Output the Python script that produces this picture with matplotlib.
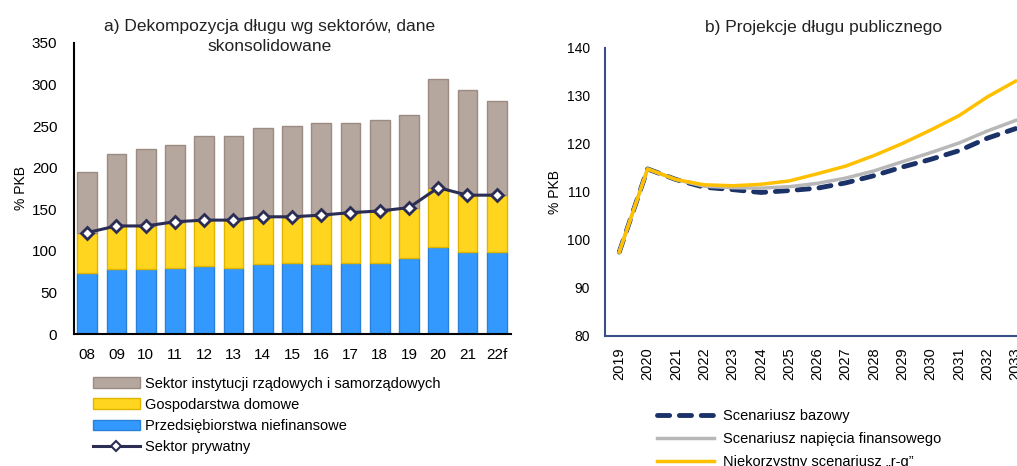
import numpy as np
import matplotlib
matplotlib.use('Agg')
import matplotlib.pyplot as plt
from matplotlib import rcParams
from matplotlib.patches import Patch
from matplotlib.lines import Line2D

rcParams['font.family'] = ['Liberation Sans', 'DejaVu Sans']

# a) debt by sector, % of GDP
years_a = ['08', '09', '10', '11', '12', '13', '14', '15', '16', '17', '18', '19', '20', '21', '22f']
nonfin = [74, 78, 78, 80, 82, 80, 84, 86, 84, 86, 86, 91, 105, 99, 99]
households = [48, 52, 52, 55, 55, 57, 57, 55, 59, 60, 62, 61, 71, 68, 68]
government = [73, 86, 93, 92, 101, 101, 107, 109, 111, 108, 109, 111, 130, 126, 113]

# b) public debt projections, % of GDP
years_b = list(range(2019, 2034))
base = [97.5, 114.8, 112.6, 111.0, 110.5, 109.9, 110.3, 110.8, 111.9, 113.4,
        115.2, 116.8, 118.6, 121.2, 123.2]
stress = [97.5, 114.8, 112.6, 111.2, 110.9, 110.8, 111.1, 111.8, 112.9, 114.4,
          116.3, 118.2, 120.2, 122.7, 124.9]
adverse_rg = [97.5, 114.8, 112.6, 111.5, 111.3, 111.6, 112.3, 113.8, 115.4, 117.6,
              120.1, 122.9, 125.9, 129.8, 133.1]

c_gray, c_gray_e = '#B6A79E', '#9C8B82'
c_yel, c_yel_e = '#FFD520', '#E0B400'
c_blue, c_blue_e = '#3399FF', '#2A80D8'
c_navy = '#2B2D55'

fig = plt.figure(figsize=(10.17, 4.66), dpi=100)

# ---- panel a
ax = fig.add_axes([0.0728, 0.283, 0.43, 0.625])
x = np.arange(len(years_a))
nf = np.array(nonfin)
hh = np.array(households)
gv = np.array(government)
w = 0.68
ax.bar(x, nf, w, color=c_blue, edgecolor=c_blue_e, linewidth=1)
ax.bar(x, hh, w, bottom=nf, color=c_yel, edgecolor=c_yel_e, linewidth=1)
ax.bar(x, gv, w, bottom=nf + hh, color=c_gray, edgecolor=c_gray_e, linewidth=1)
ax.plot(x, nf + hh, color=c_navy, lw=2.2, marker='D', ms=6,
        markerfacecolor='white', markeredgecolor=c_navy, mew=2)
ax.set_xlim(-0.45, 14.5)
ax.set_ylim(0, 350)
ax.set_yticks(range(0, 351, 50))
ax.set_xticks(x)
ax.set_xticklabels(years_a)
ax.tick_params(length=0, labelsize=11, color='#222222')
ax.tick_params(axis='y', pad=12)
ax.tick_params(axis='x', pad=10)
for s in ['top', 'right']:
    ax.spines[s].set_visible(False)
ax.spines['left'].set_linewidth(1.5)
ax.spines['bottom'].set_linewidth(1.5)
ax.set_ylabel('% PKB', fontsize=10, labelpad=3)
fig.text(0.2655, 0.922, 'a) Dekompozycja długu wg sektorów, dane\nskonsolidowane',
         ha='center', va='center', fontsize=12.5, color='#222222', linespacing=1.4)

handles_a = [Patch(facecolor=c_gray, edgecolor=c_gray_e),
             Patch(facecolor=c_yel, edgecolor=c_yel_e),
             Patch(facecolor=c_blue, edgecolor=c_blue_e),
             Line2D([], [], color=c_navy, lw=2.2, marker='D', ms=5,
                    markerfacecolor='white', markeredgecolor=c_navy, mew=1.5)]
labels_a = ['Sektor instytucji rządowych i samorządowych', 'Gospodarstwa domowe',
            'Przedsiębiorstwa niefinansowe', 'Sektor prywatny']
fig.legend(handles_a, labels_a, loc='upper left', bbox_to_anchor=(0.0915, 0.192),
           frameon=False, fontsize=10.5, handlelength=3.2, handleheight=0.75,
           handletextpad=0.35, labelspacing=0.5, borderaxespad=0, borderpad=0)

# ---- panel b
bx = fig.add_axes([0.595, 0.279, 0.405, 0.618])
bx.plot(years_b, base, color='#1B3268', lw=3.5, ls=(0, (2.5, 2.0)),
        dash_capstyle='round', label='Scenariusz bazowy')
bx.plot(years_b, stress, color='#B8B8B8', lw=2.5, label='Scenariusz napięcia finansowego')
bx.plot(years_b, adverse_rg, color='#FFC000', lw=2.5, label='Niekorzystny scenariusz \u201er-g\u201d')
bx.set_xlim(2018.5, 2033.05)
bx.set_ylim(80, 140)
bx.set_xticks(years_b)
bx.set_xticklabels([str(y) for y in years_b], rotation=90)
bx.tick_params(length=0, color='#222222')
bx.tick_params(axis='y', pad=11, labelsize=10)
bx.tick_params(axis='x', pad=8, labelsize=10.5)
for s in ['top', 'right']:
    bx.spines[s].set_visible(False)
bx.spines['left'].set_color('#3A4F86')
bx.spines['bottom'].set_color('#3A4F86')
bx.spines['left'].set_linewidth(1.5)
bx.spines['bottom'].set_linewidth(1.5)
bx.set_ylabel('% PKB', fontsize=10, labelpad=3)
fig.text(0.810, 0.94, 'b) Projekcje długu publicznego', ha='center', va='center',
         fontsize=12.5, color='#222222')
bx.legend(loc='upper left', bbox_to_anchor=(0.646, 0.123), bbox_transform=fig.transFigure,
          frameon=False, fontsize=10.5, handlelength=3.9, handletextpad=0.6,
          labelspacing=0.62, borderaxespad=0, borderpad=0)

fig.savefig('out.png', dpi=100)
